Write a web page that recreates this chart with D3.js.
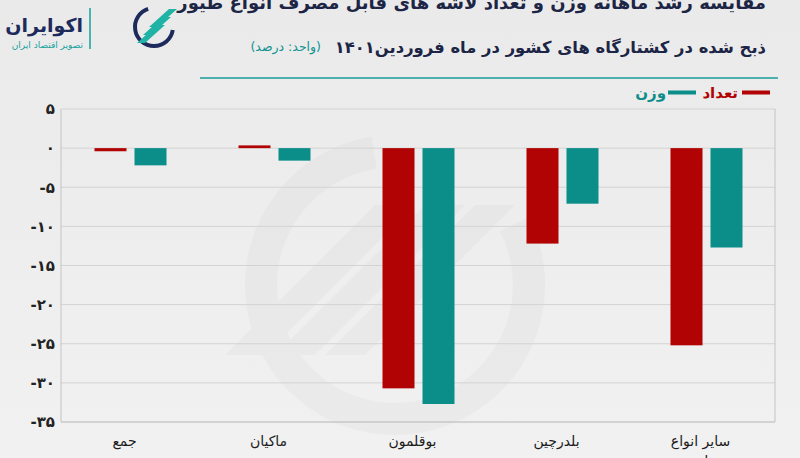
<!DOCTYPE html>
<html><head><meta charset="utf-8">
<script src="https://cdn.jsdelivr.net/npm/d3@7"></script>
<style>
html,body{margin:0;padding:0;background:#eeeeee;}
svg{display:block;}
text{font-family:"DejaVu Sans",sans-serif;}
</style></head>
<body>
<svg id="chart" width="800" height="458"></svg>
<script>
const categories = ["جمع", "ماکیان", "بوقلمون", "بلدرچین", "سایر انواع طیور"];
const seriesNames = ["تعداد", "وزن"];
const countValues = [-0.4, 0.35, -30.7, -12.2, -25.2];
const weightValues = [-2.2, -1.6, -32.7, -7.1, -12.7];
const yTicks = [5, 0, -5, -10, -15, -20, -25, -30, -35];
const titleLine1 = "مقایسه رشد ماهانه وزن و تعداد لاشه های قابل مصرف انواع طیور";
const titleLine2 = "ذبح شده در کشتارگاه های کشور در ماه فروردین۱۴۰۱";
const unitText = "(واحد: درصد)";
const colors = ["#b10303", "#0b8d8a"];

const toFa = s => String(s).replace(/\d/g, d => "۰۱۲۳۴۵۶۷۸۹"[d]);

const svg = d3.select("#chart");
const W = 800, H = 458;

const defs = svg.append("defs");
const bg = defs.append("linearGradient").attr("id","bg").attr("x1",0).attr("y1",0).attr("x2",0).attr("y2",1);
bg.append("stop").attr("offset","0%").attr("stop-color","#eaeaea");
bg.append("stop").attr("offset","100%").attr("stop-color","#f1f1f1");
svg.append("rect").attr("width",W).attr("height",H).attr("fill","url(#bg)");

const plot = {left: 61, right: 775, top: 109, bottom: 422};

const y = d3.scaleLinear().domain([-35, 5]).range([plot.bottom, plot.top]);
const x0 = d3.scaleBand().domain(categories).range([58.5, 778.5]).padding(0);
const x1 = d3.scaleBand().domain(seriesNames).range([0, 72]).paddingInner(0.2).paddingOuter(0);

// faint watermark
const wm = svg.append("g").attr("opacity", 0.018).attr("transform","translate(395,285)");
wm.append("path").attr("d", d3.arc()({innerRadius:118, outerRadius:150, startAngle: 0.35*Math.PI, endAngle: 1.95*Math.PI})).attr("fill","#000");
[-60,-10,40].forEach(o=>{
  wm.append("path").attr("d",`M${-110+o},${70} L${-70+o},${70} L${80+o},${-80} L${40+o},${-80} Z`).attr("fill","#000");
});

// grid lines
svg.append("g").selectAll("line").data(yTicks).join("line")
  .attr("x1", plot.left).attr("x2", plot.right)
  .attr("y1", d => y(d)).attr("y2", d => y(d))
  .attr("stroke", d => d === -35 ? "#b5b5b5" : "#d3d3d3").attr("stroke-width", 1);

svg.append("line").attr("x1",plot.left).attr("x2",plot.left).attr("y1",y(5)).attr("y2",y(-35)).attr("stroke","#c4c4c4");
svg.append("line").attr("x1",plot.right).attr("x2",plot.right).attr("y1",y(5)).attr("y2",y(-35)).attr("stroke","#c4c4c4");

// y axis labels
const yAxis = d3.axisLeft(y).tickValues(yTicks).tickSize(0).tickPadding(6).tickFormat(d => toFa(d < 0 ? "-" + Math.abs(d) : d));
const gy = svg.append("g").attr("transform", `translate(${plot.left},0)`).call(yAxis);
gy.select(".domain").remove();
gy.selectAll("text").attr("font-family","DejaVu Sans").attr("font-weight","bold").attr("font-size",15).attr("fill","#222").attr("direction","ltr");

// bars
const data = categories.map((c,i) => ({cat:c, vals:[countValues[i], weightValues[i]]}));
const groups = svg.append("g").selectAll("g").data(data).join("g")
  .attr("transform", d => `translate(${x0(d.cat) + (x0.bandwidth()-72)/2},0)`);
groups.selectAll("rect").data(d => d.vals.map((v,j)=>({v, s:seriesNames[j], j}))).join("rect")
  .attr("x", d => x1(d.s)).attr("width", x1.bandwidth())
  .attr("y", d => y(Math.max(0,d.v))).attr("height", d => Math.abs(y(d.v) - y(0)))
  .attr("fill", d => colors[d.j]);

// x labels
const lx = d => x0(d) + x0.bandwidth()/2 - 6;
const xl = svg.append("g").selectAll("text").data(categories).join("text")
  .attr("x", lx).attr("y", 446)
  .attr("text-anchor","middle").attr("direction","rtl").attr("font-size",14).attr("fill","#1b1b1b");
xl.each(function(d){
  const words = d.split(" ");
  const t = d3.select(this);
  if (words.length > 2) {
    t.append("tspan").attr("x", lx(d)).attr("dy",0).text(words.slice(0,2).join(" "));
    t.append("tspan").attr("x", lx(d)).attr("dy",20).text(words.slice(2).join(" "));
  } else t.text(d);
});

// title (rtl: anchor "start" = right edge)
svg.append("text").attr("x",766).attr("y",9).attr("text-anchor","start").attr("direction","rtl")
  .attr("font-size",18).attr("font-weight","bold").attr("fill","#1c2545").text(titleLine1);
svg.append("text").attr("x",766).attr("y",53).attr("text-anchor","start").attr("direction","rtl")
  .attr("font-size",16.4).attr("font-weight","bold").attr("fill","#1c2545").text(titleLine2);
svg.append("text").attr("x",321).attr("y",51).attr("text-anchor","end").attr("direction","ltr")
  .attr("font-size",12.5).attr("fill","#119491").text("\u202B" + unitText + "\u202C");

// separator line
svg.append("line").attr("x1",200).attr("x2",778).attr("y1",78).attr("y2",78).attr("stroke","#1a9c99").attr("stroke-width",1.5);

// legend
const leg = svg.append("g");
const legItems = [{name:seriesNames[0], c:colors[0], lx:742, tx:738}, {name:seriesNames[1], c:colors[1], lx:668, tx:666}];
legItems.forEach(it => {
  leg.append("line").attr("x1",it.lx).attr("x2",it.lx+28).attr("y1",92.5).attr("y2",92.5).attr("stroke",it.c).attr("stroke-width",4);
  leg.append("text").attr("x",it.tx).attr("y",98).attr("text-anchor","start").attr("direction","rtl")
    .attr("font-size",15).attr("font-weight","bold").attr("fill",it.c).text(it.name);
});

// logo
const logo = svg.append("g");
logo.append("text").attr("x",83).attr("y",32).attr("text-anchor","start").attr("direction","rtl")
  .attr("font-size",19).attr("font-weight","bold").attr("fill","#1d2a5c").text("اکوایران");
logo.append("text").attr("x",83).attr("y",48).attr("text-anchor","start").attr("direction","rtl")
  .attr("font-size",9).attr("fill","#16a09c").text("تصویر اقتصاد ایران");
logo.append("line").attr("x1",90).attr("x2",90).attr("y1",8).attr("y2",49).attr("stroke","#16a09c").attr("stroke-width",1.5);
const ic = logo.append("g").attr("transform","translate(154,27)");
ic.append("path").attr("d", d3.arc()({innerRadius:17, outerRadius:21, startAngle: 0.55*Math.PI, endAngle: 1.9*Math.PI})).attr("fill","#1d2a5c");
[[-15,8],[-9,0],[-3,-8]].forEach(([ox,oy])=>{
  ic.append("path").attr("d",`M${ox-2},${oy+8} L${ox+6},${oy+8} L${ox+26},${oy-10} L${ox+18},${oy-10} Z`).attr("fill","#1fb3a6");
});
</script>
</body></html>
